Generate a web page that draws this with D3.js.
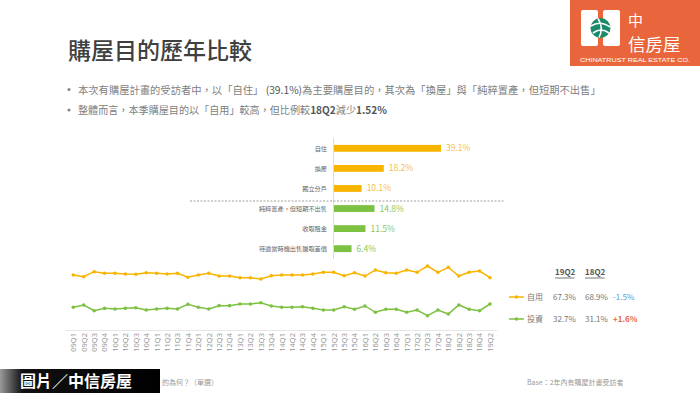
<!DOCTYPE html>
<html><head><meta charset="utf-8">
<script src="https://cdn.jsdelivr.net/npm/d3@7"></script>
<style>
body{margin:0;background:#fff;}
svg{display:block;font-family:"Noto Sans CJK TC","Noto Sans",sans-serif;}
</style></head>
<body><svg id="c" width="700" height="393"></svg>
<script>
// ---- data ----
const barCategories = ["自住","換屋","獨立分戶","純粹置產，但短期不出售","收取租金","待適當時機出售賺取差價"];
const barValues = [39.1, 18.2, 10.1, 14.8, 11.5, 6.4];
const barGroups = ["self","self","self","inv","inv","inv"];

const quarters = ["09Q1","09Q2","09Q3","09Q4","10Q1","10Q2","10Q3","10Q4","11Q1","11Q2","11Q3","11Q4",
"12Q1","12Q2","12Q3","12Q4","13Q1","13Q2","13Q3","13Q4","14Q1","14Q2","14Q3","14Q4","15Q1","15Q2","15Q3","15Q4",
"16Q1","16Q2","16Q3","16Q4","17Q1","17Q2","17Q3","17Q4","18Q1","18Q2","18Q3","18Q4","19Q2"];
const selfUse = [71.1,68.8,75.4,73.3,73.3,72.4,72.0,74.1,73.3,72.4,73.3,68.0,71.1,73.3,69.7,69.7,67.5,67.5,65.8,70.1,
71.1,71.1,71.1,72.4,74.6,74.6,70.1,74.1,69.7,77.6,74.1,73.3,77.6,74.6,82.9,74.6,81.2,69.7,74.6,76.3,67.5];
const investment = [28.6,31.6,24.1,27.2,26.3,27.2,28.0,25.0,26.3,27.2,26.3,32.5,28.6,26.3,30.7,30.7,32.9,32.9,34.6,30.3,
28.6,28.6,29.3,27.2,25.0,25.0,29.3,25.9,30.3,22.0,25.9,25.9,22.0,25.0,17.5,25.0,19.7,31.6,25.9,24.1,32.9];

const tableHeaders = ["19Q2","18Q2"];
const tableRows = [
  {name:"自用", now:"67.3%", prev:"68.9%", diff:"-1.5%"},
  {name:"投資", now:"32.7%", prev:"31.1%", diff:"+1.6%"}
];

const ORANGE = "#F7B500", GREEN = "#7DC142";
const svg = d3.select("#c");

// ---- title & bullets ----
svg.append("text").attr("x",68).attr("y",59).attr("font-size",23).attr("font-weight",500)
  .attr("fill","#404040").text("購屋目的歷年比較");

const b1 = svg.append("text").attr("x",78).attr("y",93.5).attr("font-size",10.3).attr("fill","#808080");
b1.append("tspan").text("本次有購屋計畫的受訪者中，以「自住」");
b1.append("tspan").attr("fill","#555").text(" (39.1%)");
b1.append("tspan").text("為主要購屋目的，其次為「換屋」與「純粹置產，但短期不出售」");
const b2 = svg.append("text").attr("x",78).attr("y",114).attr("font-size",10.1).attr("fill","#808080");
b2.append("tspan").text("整體而言，本季購屋目的以「自用」較高，但比例較");
b2.append("tspan").attr("fill","#555").attr("font-weight","bold").text("18Q2");
b2.append("tspan").text("減少");
b2.append("tspan").attr("fill","#555").attr("font-weight","bold").text("1.52%");
[89.5,110].forEach(y=>svg.append("circle").attr("cx",69).attr("cy",y).attr("r",1.6).attr("fill","#888"));

// ---- logo ----
const lg = svg.append("g");
lg.append("rect").attr("x",570).attr("y",0).attr("width",130).attr("height",66).attr("fill","#E9653B");
lg.append("rect").attr("x",581).attr("y",10).attr("width",17).attr("height",36).attr("rx",2).attr("fill","#fff");
lg.append("rect").attr("x",603).attr("y",10).attr("width",17).attr("height",36).attr("rx",2).attr("fill","#fff");
lg.append("rect").attr("x",590).attr("y",20).attr("width",22).attr("height",16).attr("fill","#fff");
lg.append("circle").attr("cx",600.5).attr("cy",28).attr("r",10).attr("fill","#1B8A6B");
lg.append("path").attr("d","M591,26 Q600,20 610,27 M593,33 Q601,27 609,33 M598,18.5 Q604,28 599,37.5")
  .attr("stroke","#fff").attr("stroke-width",1.6).attr("fill","none");
lg.append("text").attr("x",628).attr("y",26).attr("font-size",15).attr("fill","#fff").text("中");
lg.append("text").attr("x",628).attr("y",50.5).attr("font-size",17.5).attr("fill","#fff").text("信房屋");
lg.append("text").attr("x",580).attr("y",61.5).attr("font-size",5.5).attr("fill","#fff")
  .attr("font-family","Liberation Sans, sans-serif")
  .attr("textLength",110).attr("lengthAdjust","spacingAndGlyphs").text("CHINATRUST REAL ESTATE CO.");

// ---- bar chart ----
const bx = d3.scaleLinear().domain([0,39.1]).range([334,441]);
const by = d3.scaleBand().domain(barCategories).range([138.3,258.7]).paddingInner(0.66).paddingOuter(0.33);
const bars = svg.append("g");
bars.append("line").attr("x1",333.5).attr("x2",333.5).attr("y1",138).attr("y2",259).attr("stroke","#ddd");
bars.selectAll("rect").data(barCategories).join("rect")
  .attr("x",bx(0)).attr("y",d=>by(d)).attr("height",by.bandwidth())
  .attr("width",(d,i)=>bx(barValues[i])-bx(0))
  .attr("fill",(d,i)=>barGroups[i]==="self"?ORANGE:GREEN);
bars.selectAll("text.cat").data(barCategories).join("text").attr("class","cat")
  .attr("x",327).attr("y",d=>by(d)+by.bandwidth()/2+2.3).attr("text-anchor","end")
  .attr("font-size",6.2).attr("fill","#666").text(d=>d);
bars.selectAll("text.val").data(barCategories).join("text").attr("class","val")
  .attr("x",(d,i)=>bx(barValues[i])+5).attr("y",d=>by(d)+by.bandwidth()/2+3)
  .attr("font-size",8.5).attr("fill",(d,i)=>barGroups[i]==="self"?"#F4BE4A":"#8CC85A")
  .text((d,i)=>barValues[i].toFixed(1)+"%");
bars.append("line").attr("x1",190).attr("x2",505).attr("y1",201).attr("y2",201)
  .attr("stroke","#888").attr("stroke-dasharray","2,1.5").attr("stroke-width",0.8);

// ---- line chart ----
const lx = d3.scalePoint().domain(quarters).range([73.3,490]);
const ly = d3.scaleLinear().domain([0,100]).range([329,253]);
const lc = svg.append("g");
lc.append("line").attr("x1",66).attr("x2",497).attr("y1",330.5).attr("y2",330.5).attr("stroke","#e6e6e6");
const xAxis = d3.axisBottom(lx).tickSize(0).tickPadding(0);
const ax = lc.append("g").attr("transform","translate(0,333)").call(xAxis);
ax.select(".domain").remove();
ax.selectAll("text").attr("transform","rotate(-90)").attr("text-anchor","end")
  .attr("x",0).attr("y",0).attr("dy","0.32em").attr("dx",0)
  .attr("font-size",7.5).attr("fill","#999").attr("font-family","Noto Sans, sans-serif");
const line = d3.line().x((d,i)=>lx(quarters[i])).y(d=>ly(d));
[[selfUse,ORANGE],[investment,GREEN]].forEach(([vals,col])=>{
  lc.append("path").attr("d",line(vals)).attr("fill","none").attr("stroke",col).attr("stroke-width",1.5);
  lc.append("g").selectAll("circle").data(vals).join("circle")
    .attr("cx",(d,i)=>lx(quarters[i])).attr("cy",d=>ly(d)).attr("r",1.8).attr("fill",col);
});

// ---- table legend ----
const tb = svg.append("g").attr("font-size",8);
tableHeaders.forEach((h,i)=>{
  const x = [555,585][i];
  tb.append("text").attr("x",x).attr("y",275).attr("font-weight","bold").attr("fill","#555").text(h);
  tb.append("line").attr("x1",x).attr("x2",x+19.5).attr("y1",278).attr("y2",278).attr("stroke","#555").attr("stroke-width",0.8);
});
tableRows.forEach((r,i)=>{
  const y = [297,319][i], col = [ORANGE,GREEN][i];
  tb.append("line").attr("x1",509).attr("x2",524).attr("y1",y).attr("y2",y).attr("stroke",col).attr("stroke-width",1.5);
  tb.append("circle").attr("cx",516.5).attr("cy",y).attr("r",1.8).attr("fill",col);
  tb.append("text").attr("x",527).attr("y",y+3).attr("fill","#777").text(r.name);
  tb.append("text").attr("x",553).attr("y",y+3).attr("fill","#777").text(r.now);
  tb.append("text").attr("x",585).attr("y",y+3).attr("fill","#777").text(r.prev);
  tb.append("text").attr("x",613).attr("y",y+3).attr("fill",i===0?"#5B9BD5":"#E8663A")
    .attr("font-weight",i===0?"normal":"bold").text(r.diff);
});

// ---- footer ----
svg.append("text").attr("x",162).attr("y",385).attr("font-size",7).attr("fill","#999")
  .text("的為何？（單選）");
svg.append("text").attr("x",527).attr("y",385).attr("font-size",7).attr("fill","#999").text("Base：2年內有購屋計畫受訪者");
const grad = svg.append("defs").append("linearGradient").attr("id","gb").attr("x1","0").attr("x2","1");
grad.append("stop").attr("offset","0").attr("stop-color","#9a9a9a");
grad.append("stop").attr("offset","0.14").attr("stop-color","#111");
grad.append("stop").attr("offset","1").attr("stop-color","#000");
svg.append("rect").attr("x",0).attr("y",369).attr("width",160).attr("height",24).attr("fill","url(#gb)");
svg.append("text").attr("x",20).attr("y",387).attr("font-size",16).attr("font-weight","bold").attr("fill","#fff").text("圖片／中信房屋");
</script></body></html>
